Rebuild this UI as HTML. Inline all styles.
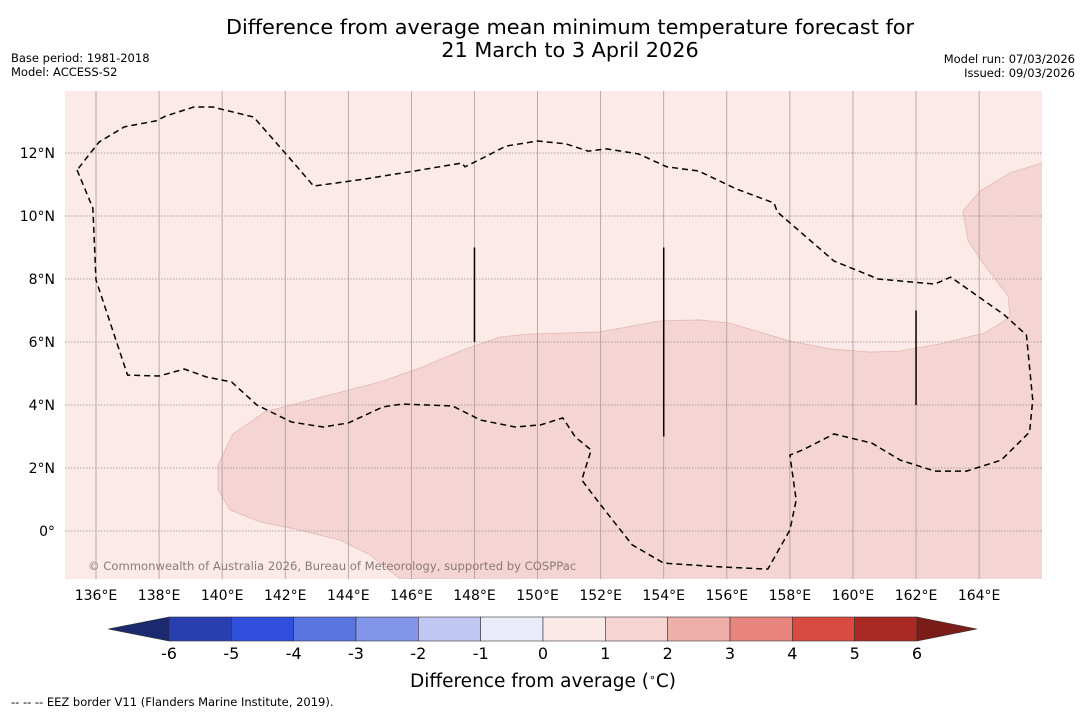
<!DOCTYPE html>
<html><head><meta charset="utf-8"><style>
body{margin:0;background:#fff;width:1085px;height:713px;overflow:hidden;font-family:"DejaVu Sans","Liberation Sans",sans-serif;}
svg text{font-family:"DejaVu Sans","Liberation Sans",sans-serif;}
</style></head><body>
<svg id="chart" width="1085" height="713" xmlns="http://www.w3.org/2000/svg">
<text x="570" y="34" text-anchor="middle" font-size="20.8">Difference from average mean minimum temperature forecast for</text>
<text x="570" y="57" text-anchor="middle" font-size="20.8">21 March to 3 April 2026</text>
<text x="11" y="62" font-size="11.5">Base period: 1981-2018</text>
<text x="11" y="76" font-size="11.5">Model: ACCESS-S2</text>
<text x="1075" y="63" font-size="11.5" text-anchor="end">Model run: 07/03/2026</text>
<text x="1075" y="77" font-size="11.5" text-anchor="end">Issued: 09/03/2026</text>
<defs><clipPath id="mapclip"><rect x="65" y="91" width="977" height="488"/></clipPath></defs>
<g id="map" clip-path="url(#mapclip)"></g>
<g id="axes"></g>
<g id="cbar"></g>
<text x="543" y="687" text-anchor="middle" font-size="18.5">Difference from average (<tspan baseline-shift="super" font-size="11">∘</tspan>C)</text>
<text x="11" y="706" font-size="11.5">--  --  -- EEZ border V11 (Flanders Marine Institute, 2019).</text>
</svg>
<script>
const lonTicks=[136,138,140,142,144,146,148,150,152,154,156,158,160,162,164];
const latTicks=[0,2,4,6,8,10,12];
const levels=[-6,-5,-4,-3,-2,-1,0,1,2,3,4,5,6];
const levelColors=["#2a3faf","#2f4fdc","#5a74e0","#8295e8","#bfc7f2","#e9ebf9","#fbe9e8","#f5d4d2","#eeafab","#e8857f","#d94a42","#a92a25"];
const lowColor="#1b2a6e", highColor="#7a1c18";
const eezLon=[135.4,135.9,136.0,137.0,138.0,138.8,139.5,140.3,141.1,142.2,143.2,144.0,145.1,145.7,147.3,148.2,149.3,150.1,150.8,151.2,151.7,151.4,152.0,153.0,154.0,155.8,157.3,158.0,158.2,158.0,158.4,159.4,160.6,161.5,162.6,163.6,164.7,165.6,165.7,165.5,164.8,163.1,162.6,160.8,159.4,157.6,157.5,156.3,155.1,154.1,153.2,152.2,151.6,150.9,150.0,149.0,148.2,147.7,147.6,146.1,144.5,142.9,142.3,141.0,139.7,139.1,138.2,137.9,136.9,136.1,135.4];
const eezLat=[11.46,10.25,7.97,4.95,4.92,5.14,4.89,4.73,4.0,3.46,3.3,3.43,3.94,4.03,3.97,3.52,3.3,3.37,3.59,2.98,2.57,1.62,0.83,-0.44,-1.02,-1.14,-1.21,0.03,0.98,2.41,2.57,3.08,2.79,2.25,1.9,1.9,2.25,3.14,4.16,6.22,6.86,8.06,7.84,8.0,8.57,10.13,10.41,10.86,11.43,11.56,11.97,12.13,12.06,12.29,12.38,12.22,11.81,11.56,11.68,11.43,11.17,10.95,11.65,13.14,13.46,13.46,13.17,13.02,12.83,12.35,11.46];
const warmLon=[145.64,144.69,143.74,142.47,141.20,140.25,139.87,139.87,140.34,141.36,142.79,145.00,146.27,147.54,148.81,149.76,151.98,153.88,155.15,156.10,158.00,159.27,160.54,161.49,162.76,164.19,164.98,164.92,164.19,163.65,163.49,164.03,164.98,166.2,166.2];
const warmLat=[-1.52,-0.76,-0.29,0.03,0.29,0.67,1.30,2.10,3.08,3.78,4.16,4.73,5.17,5.71,6.16,6.25,6.32,6.67,6.70,6.60,6.03,5.78,5.68,5.71,5.94,6.29,6.79,7.46,8.41,9.21,10.16,10.79,11.37,11.75,-1.6];
const stationLon=[148,154,162];
const stationLatTop=[9,9,7];
const stationLatBot=[6,3,4];

const NS="http://www.w3.org/2000/svg";
const X=lon=>96+(lon-136)*31.54;
const Y=lat=>531-lat*31.5;
const CX=v=>169+(v+6)*(917-169)/12;
function mk(tag,attrs,parent){const e=document.createElementNS(NS,tag);for(const k in attrs)e.setAttribute(k,attrs[k]);parent.appendChild(e);return e;}
const map=document.getElementById('map'),axes=document.getElementById('axes'),cbar=document.getElementById('cbar');
const bg=mk('rect',{x:65,y:91,width:977,height:488,fill:"#fbeae8"},map);


const warm=mk('polygon',{points:warmLon.map((l,i)=>X(l)+","+Y(warmLat[i])).join(" "),fill:"#f5d5d3",stroke:"#e3b9b6","stroke-width":0.8},map);


lonTicks.forEach(l=>{const g=mk('line',{x1:X(l),x2:X(l),y1:91,y2:579,stroke:"#aa9a9a","stroke-width":0.8},map);

});
latTicks.forEach(l=>{const g=mk('line',{x1:65,x2:1042,y1:Y(l),y2:Y(l),stroke:"#9a8a8a","stroke-width":0.8,"stroke-dasharray":"1.5,1.5"},map);

});
const eez=mk('polyline',{points:eezLon.map((l,i)=>X(l)+","+Y(eezLat[i])).join(" "),fill:"none",stroke:"#000","stroke-width":1.5,"stroke-dasharray":"6,4"},map);


stationLon.forEach((l,i)=>{const s=mk('line',{x1:X(l),x2:X(l),y1:Y(stationLatTop[i]),y2:Y(stationLatBot[i]),stroke:"#000","stroke-width":1.5},map);

});
const cr=mk('text',{x:88,y:570,"font-size":11.6,fill:"#8a7a7a"},map);cr.textContent="© Commonwealth of Australia 2026, Bureau of Meteorology, supported by COSPPac";


lonTicks.forEach(l=>{const t=mk('text',{x:X(l),y:600,"font-size":14,"text-anchor":"middle"},axes);t.textContent=l+"°E";

});
latTicks.forEach(l=>{const t=mk('text',{x:55,y:Y(l)+5,"font-size":14,"text-anchor":"end"},axes);t.textContent=l===0?"0°":l+"°N";

});
levelColors.forEach((c,i)=>{const r=mk('rect',{x:CX(levels[i]),y:617,width:CX(levels[i+1])-CX(levels[i]),height:24,fill:c,stroke:"#333","stroke-width":0.6},cbar);

});
const lt=mk('polygon',{points:`${CX(-6)},617 108,629 ${CX(-6)},641`,fill:lowColor,stroke:"#333","stroke-width":0.6},cbar);


const ht=mk('polygon',{points:`${CX(6)},617 977,629 ${CX(6)},641`,fill:highColor,stroke:"#333","stroke-width":0.6},cbar);


levels.forEach(v=>{const t=mk('text',{x:CX(v),y:659,"font-size":16,"text-anchor":"middle"},cbar);t.textContent=v;

});
</script>
</body></html>
